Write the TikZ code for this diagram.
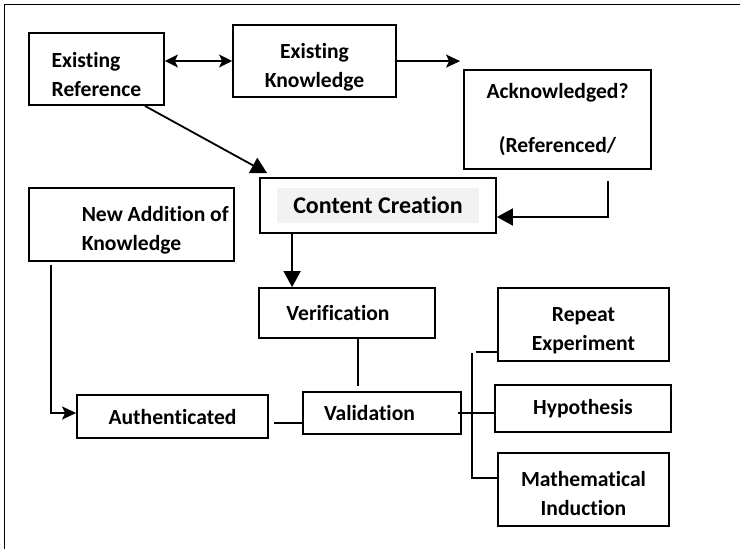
\documentclass[tikz,border=0pt]{standalone}
\usepackage{fontspec}
\setmainfont{Carlito}[Ligatures=NoCommon]
\usepackage{tikz}
\usetikzlibrary{arrows.meta,positioning,calc}
\definecolor{shadegray}{RGB}{242,242,242}
\newcommand{\topgap}{\rule{0pt}{27pt}}

\begin{document}
\begin{tikzpicture}[x=1pt, y=-1pt,
    procbox/.style={draw, line width=1.8pt, align=center, inner sep=2pt,
        font=\fontsize{21.6}{29}\selectfont\bfseries},
    arr/.style={line width=1.8pt, -{Triangle[length=16pt,width=17pt]}},
    harr/.style={line width=1.8pt, -{Stealth[length=14pt,width=13pt,inset=3pt]}},
    link/.style={line width=1.6pt},
    thinlink/.style={line width=1.3pt}]

    % Frame
    \useasboundingbox (0,0) rectangle (740,549);
    \draw[line width=1.6pt] (740,4.5) -- (4.5,4.5) -- (4.5,549);

    % Top row
    \node[procbox, align=left, minimum width=135pt, minimum height=72pt] (ref) at (96.5,69) {\topgap Existing\\Reference};
    \node[procbox, minimum width=163pt, minimum height=72pt] (know) at (314.5,61) {\topgap Existing\\Knowledge};
    \node[procbox, minimum width=187pt, minimum height=99pt] (ack) at (557.5,119.5) {Acknowledged?\\[25pt](Referenced/};

    % Content creation (shaded label inside the box)
    \node[draw, line width=1.8pt, minimum width=236pt, minimum height=55pt] (cc) at (378,205.5) {};
    \node[fill=shadegray, minimum width=202pt, minimum height=35pt, inner sep=0pt,
        font=\fontsize{24}{28}\selectfont\bfseries] (cctext) at (cc) {Content Creation};

    % Left column
    \node[procbox, align=left, minimum width=205pt, minimum height=73pt] (newk) at (131.5,224.5) {\topgap\makebox[99pt][l]{New Addition of}\\Knowledge};
    \node[procbox, minimum width=191pt, minimum height=43pt] (auth) at (172.5,416.5) {Authenticated};

    % Middle column
    \node[procbox, minimum width=176pt, minimum height=50pt] (ver) at (347,313) {Verification\hspace*{18pt}};
    \node[procbox, minimum width=158pt, minimum height=42pt] (val) at (382,413) {Validation\hspace*{25pt}};

    % Right column
    \node[procbox, minimum width=171pt, minimum height=73pt] (rep) at (583.5,324.5) {\topgap Repeat\\Experiment};
    \node[procbox, minimum width=176pt, minimum height=47pt] (hyp) at (583,408.5) {Hypothesis};
    \node[procbox, minimum width=171pt, minimum height=73pt] (math) at (583.5,489.5) {\rule{0pt}{24pt}Mathematical\\Induction};

    % Arrows
    \coordinate (ackin) at ($(ack.north west)+(-3,-8)$);
    \draw[line width=1.8pt, {Stealth[length=13pt,width=13pt,inset=3pt]}-{Stealth[length=13pt,width=13pt,inset=3pt]}] (ref.east |- know.west) -- (know.west);
    \draw[harr] (know.east) -- (ackin);
    \draw[arr] ([xshift=-20pt]ref.south east) -- ([xshift=8pt,yshift=4pt]cc.north west);
    \draw[arr] ([xshift=-44pt,yshift=-11pt]ack.south east) |- ([yshift=-11.5pt]cc.east);
    \draw[arr] ([xshift=33pt]cc.south west) -- ([xshift=34pt]ver.north west);
    \draw[harr] ([xshift=23pt,yshift=-3pt]newk.south west) |- ([yshift=3.5pt]auth.west);

    % Plain links
    \draw[link] ([xshift=11pt]ver.south) -- ([xshift=-24pt,yshift=5pt]val.north);
    \draw[link] ([xshift=5pt,yshift=-6.5pt]auth.east) -- ([yshift=-10pt]val.west);
    \draw[thinlink] ([xshift=-4pt]val.east) -- (val.east -| hyp.west);
    \draw[thinlink] ([yshift=10pt]rep.south west) -- ++(-21,0);
    \draw[thinlink] ([xshift=-25pt,yshift=9pt]rep.south west) |- ([yshift=11.5pt]math.west);

\end{tikzpicture}
\end{document}
